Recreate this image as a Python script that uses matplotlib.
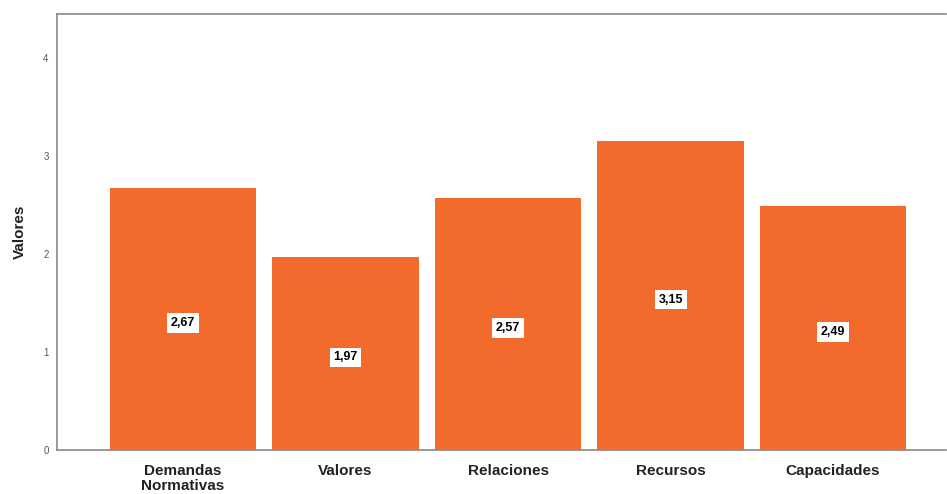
import matplotlib
matplotlib.use("Agg")
import matplotlib.pyplot as plt

# Data
categories = ["Demandas\nNormativas", "Valores", "Relaciones", "Recursos", "Capacidades"]
values = [2.67, 1.97, 2.57, 3.15, 2.49]
value_labels = ["2,67", "1,97", "2,57", "3,15", "2,49"]
y_ticks = [0, 1, 2, 3, 4]

plt.rcParams["font.family"] = ["Liberation Sans", "DejaVu Sans"]

fig = plt.figure(figsize=(9.47, 4.94), dpi=100)
ax = fig.add_axes([57 / 947, 44 / 494, 889 / 947, 436 / 494])

x = range(len(categories))
ax.bar(x, values, width=0.9, color="#F26A2C", zorder=2)

for xi, v, lab in zip(x, values, value_labels):
    ax.annotate(lab, xy=(xi, v / 2), xytext=(0, -4), textcoords="offset pixels",
                ha="center", va="center", fontsize=9, fontweight="bold",
                family=["Liberation Sans Narrow", "Liberation Sans", "DejaVu Sans"],
                bbox=dict(boxstyle="square,pad=0.3", fc="white", ec="none"), zorder=3)

ax.set_xlim(-0.775, 4.695)
ax.set_ylim(0, 4.45)
ax.set_yticks(y_ticks)
ax.set_yticklabels([str(t) for t in y_ticks], fontsize=7, color="#555555")
ax.set_xticks(list(x))
ax.set_xticklabels(categories, fontsize=11, fontweight="bold", color="#222222",
                   linespacing=1.1)
ax.tick_params(axis="both", length=0)
ax.tick_params(axis="y", pad=6)
ax.tick_params(axis="x", pad=10)
ax.set_ylabel("Valores", fontsize=11, fontweight="bold", color="#222222", labelpad=12)

for side in ["left", "top", "bottom"]:
    ax.spines[side].set_color("#888888")
    ax.spines[side].set_linewidth(1.2)
ax.spines["right"].set_visible(False)

fig.savefig("out.png", dpi=100)
